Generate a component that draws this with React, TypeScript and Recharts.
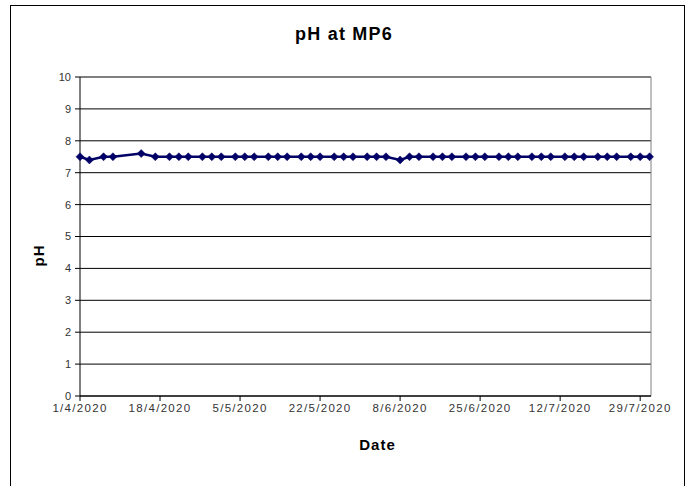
import React from 'react';
import { LineChart, Line, XAxis, YAxis, CartesianGrid, ReferenceLine, Label } from 'recharts';

// Days since 1/4/2020 for each sample
const sampleDays = [0, 2, 5, 7, 13, 16, 19, 21, 23, 26, 28, 30, 33, 35, 37, 40, 42, 44, 47, 49, 51, 54, 56, 58, 61, 63, 65, 68, 70, 72, 75, 77, 79, 82, 84, 86, 89, 91, 93, 96, 98, 100, 103, 105, 107, 110, 112, 114, 117, 119, 121];
const phValues = [7.5, 7.4, 7.5, 7.5, 7.6, 7.5, 7.5, 7.5, 7.5, 7.5, 7.5, 7.5, 7.5, 7.5, 7.5, 7.5, 7.5, 7.5, 7.5, 7.5, 7.5, 7.5, 7.5, 7.5, 7.5, 7.5, 7.5, 7.4, 7.5, 7.5, 7.5, 7.5, 7.5, 7.5, 7.5, 7.5, 7.5, 7.5, 7.5, 7.5, 7.5, 7.5, 7.5, 7.5, 7.5, 7.5, 7.5, 7.5, 7.5, 7.5, 7.5];

const xTickDays = [0, 17, 34, 51, 68, 85, 102, 119];
const xTickLabels = ['1/4/2020', '18/4/2020', '5/5/2020', '22/5/2020', '8/6/2020', '25/6/2020', '12/7/2020', '29/7/2020'];
const yTicks = [0, 1, 2, 3, 4, 5, 6, 7, 8, 9, 10];
const xMax = 121.3;
const yMax = 10;

const chartTitle = 'pH at MP6';
const xAxisTitle = 'Date';
const yAxisTitle = 'pH';

const data = sampleDays.map((d, i) => ({ day: d, ph: phValues[i] }));

const FONT = '"Liberation Sans", Arial, sans-serif';

const Diamond = (props: any) => {
  const { cx, cy } = props;
  if (cx == null || cy == null) return null;
  const r = 4;
  return (
    <polygon
      points={`${cx},${cy - r} ${cx + r},${cy} ${cx},${cy + r} ${cx - r},${cy}`}
      fill="#000066"
      stroke="#000066"
      strokeWidth={0.5}
    />
  );
};

export default function App() {
  const fmt = (v: number) => {
    const i = xTickDays.indexOf(v);
    return i >= 0 ? xTickLabels[i] : '';
  };
  return (
    <div style={{ position: 'absolute', left: 0, top: 0, width: 694, height: 486, background: '#fff', overflow: 'hidden' }}>
      <div style={{ position: 'absolute', left: 10, top: 5, width: 675, height: 500, border: '1px solid #000', boxSizing: 'border-box' }} />
      <div
        style={{
          position: 'absolute', left: 0, width: 688, top: 24, textAlign: 'center', whiteSpace: 'pre',
          fontFamily: FONT, fontWeight: 'bold', fontSize: 18, letterSpacing: 1.2, color: '#000',
        }}
      >
        {chartTitle}
      </div>
      <div style={{ position: 'absolute', left: 0, top: 0 }}>
        <LineChart width={694} height={486} data={data} margin={{ top: 77, right: 43, left: 20, bottom: 50 }}>
          <CartesianGrid vertical={false} stroke="#000" strokeWidth={1} />
          <XAxis
            dataKey="day"
            type="number"
            domain={[0, xMax]}
            ticks={xTickDays}
            tickFormatter={fmt}
            interval={0}
            height={40}
            axisLine={{ stroke: '#000' }}
            tickLine={{ stroke: '#000' }}
            tickSize={5}
            tickMargin={3}
            tick={{ fill: '#333', fontSize: 11.5, fontFamily: FONT, letterSpacing: 1.3 }}
          >
            <Label value={xAxisTitle} position="center" dx={12} dy={29}
              style={{ fontFamily: FONT, fontWeight: 'bold', fontSize: 15, fill: '#000', letterSpacing: 1 }} />
          </XAxis>
          <YAxis
            type="number"
            domain={[0, yMax]}
            ticks={yTicks}
            interval={0}
            width={60}
            axisLine={{ stroke: '#000' }}
            tickLine={{ stroke: '#000' }}
            tickSize={5}
            tickMargin={4}
            tick={{ fill: '#333', fontSize: 11, fontFamily: FONT }}
          >
            <Label value={yAxisTitle} position="center" angle={-90} dx={-11} dy={19}
              style={{ fontFamily: FONT, fontWeight: 'bold', fontSize: 15, fill: '#000', letterSpacing: 1 }} />
          </YAxis>
          <ReferenceLine y={yMax} stroke="#808080" strokeWidth={1} />
          <ReferenceLine x={xMax} stroke="#808080" strokeWidth={1} />
          <Line
            type="linear"
            dataKey="ph"
            stroke="#000066"
            strokeWidth={2.5}
            dot={<Diamond />}
            isAnimationActive={false}
          />
        </LineChart>
      </div>
    </div>
  );
}
